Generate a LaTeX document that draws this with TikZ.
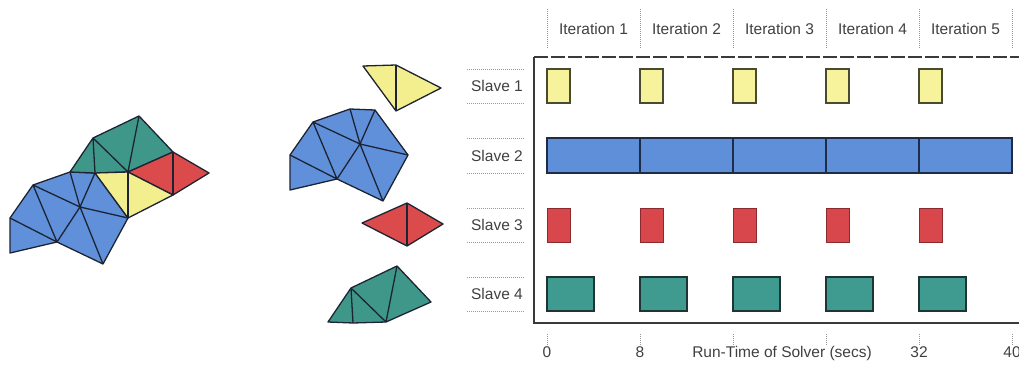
\documentclass[tikz,border=0pt]{standalone}
\usepackage{fontspec}
\setmainfont{Liberation Sans}
\definecolor{meshline}{HTML}{1C2433}
\definecolor{myyellow}{HTML}{F3EF8E}
\definecolor{myblue}{HTML}{6190DA}
\definecolor{myred}{HTML}{DC4B4C}
\definecolor{myteal}{HTML}{3F978A}
\definecolor{gyellow}{HTML}{F6F39C}
\definecolor{gyellowline}{HTML}{4A4A30}
\definecolor{gblue}{HTML}{5F8FD8}
\definecolor{gblueline}{HTML}{1E2C48}
\definecolor{gred}{HTML}{D8474B}
\definecolor{gredline}{HTML}{8A2A2E}
\definecolor{gteal}{HTML}{3F9A8F}
\definecolor{gtealline}{HTML}{1F3434}
\definecolor{txt}{HTML}{404040}
\definecolor{frameline}{HTML}{3A3A3A}
\definecolor{dotline}{HTML}{999999}
\begin{document}
\begin{tikzpicture}[x=1pt,y=-1pt,
  meshedge/.style={draw=meshline, line width=1.3pt, line join=round},
  yellowcell/.style={meshedge, fill=myyellow},
  bluecell/.style={meshedge, fill=myblue},
  redcell/.style={meshedge, fill=myred},
  tealcell/.style={meshedge, fill=myteal},
  ybar/.style={fill=gyellow, draw=gyellowline, line width=1.3pt},
  bbar/.style={fill=gblue, draw=gblueline, line width=1.5pt},
  rbar/.style={fill=gred, draw=gredline, line width=0.8pt},
  tbar/.style={fill=gteal, draw=gtealline, line width=1.6pt},
  lbl/.style={text=txt, font=\fontsize{15.5}{18}\selectfont, inner sep=0pt},
  dotrule/.style={draw=dotline, line width=0.8pt, dash pattern=on 1pt off 1pt},
  frame/.style={draw=frameline, line width=1.5pt}]
\useasboundingbox (0,0) rectangle (1019,364);

% ---------- mesh pieces (drawn at the origin, shifted as needed) ----------
\newcommand{\tealpiece}[1]{%
  \begin{scope}[shift={#1}]
    \path[tealcell] (70,172) -- (93,138) -- (139,116) -- (173,152) -- (128,172) -- (95,173) -- cycle;
    \draw[meshedge] (93,138) -- (95,173) (93,138) -- (128,172) (139,116) -- (128,172);
  \end{scope}}
\newcommand{\redpiece}[1]{%
  \begin{scope}[shift={#1}]
    \path[redcell] (128,172) -- (173,152) -- (209,173) -- (173,195) -- cycle;
    \draw[meshedge] (173,152) -- (173,195);
  \end{scope}}
\newcommand{\yellowpiece}[1]{%
  \begin{scope}[shift={#1}]
    \path[yellowcell] (95,173) -- (128,172) -- (173,195) -- (128,218) -- cycle;
    \draw[meshedge] (128,172) -- (128,218);
  \end{scope}}
\newcommand{\bluepiece}[1]{%
  \begin{scope}[shift={#1}]
    \path[bluecell] (33,185) -- (70,172) -- (95,173) -- (128,218) -- (103,264)
      -- (57,242) -- (10,253) -- (10,218) -- cycle;
    \draw[meshedge] (10,218) -- (57,242) (33,185) -- (57,242)
      (33,185) -- (80,207) (70,172) -- (80,207) (95,173) -- (80,207)
      (80,207) -- (128,218) (80,207) -- (103,264) (80,207) -- (57,242);
  \end{scope}}

% whole mesh
\bluepiece{(0,0)}
\tealpiece{(0,0)}
\redpiece{(0,0)}
\yellowpiece{(0,0)}

% partitioned mesh
\yellowpiece{(268,-107)}
\bluepiece{(280,-63)}
\redpiece{(234,51)}
\tealpiece{(258,150)}

% ---------- schedule chart ----------
% iteration headers
\foreach \k in {0,...,5}
  \draw[dotrule] (547+93*\k,9) -- (547+93*\k,48);
\foreach \k in {1,...,5}
  \node[lbl] (it\k) at (547+93*\k-46.5,29) {Iteration \k};

% frame
\draw[frame, dash pattern=on 14pt off 3pt] (534,57) -- (1019,57);
\draw[frame] (534,57) -- (534,323) -- (1019,323);

% row labels with dotted rules
\foreach \r/\top/\bot in {1/69/103, 2/138/173, 3/208/242, 4/277/311} {
  \node[lbl] (s\r) at (497,{(\top+\bot)/2}) {Slave \r};
  \draw[dotrule] (467,\top) -- (524,\top);
  \draw[dotrule] (467,\bot) -- (524,\bot);
}

% task bars
\foreach \k in {0,...,4} {
  \path[ybar] (547+93*\k,69) rectangle (570+93*\k,103);
  \path[bbar] (547+93*\k,138) rectangle (640+93*\k,173);
  \path[rbar] (547+93*\k,208) rectangle (570+93*\k,242);
  \path[tbar] (547+93*\k,277) rectangle (594+93*\k,311);
}

% time axis
\foreach \k in {0,...,5}
  \draw[dotrule] (547+93*\k,334) -- (547+93*\k,345);
\node[lbl, anchor=base] (t0) at (547,357) {0};
\node[lbl, anchor=base] (t8) at (640,357) {8};
\node[lbl, anchor=base] (t32) at (919,357) {32};
\node[lbl, anchor=base] (t40) at (1012,357) {40};
\node[lbl, anchor=base] (axis) at (782,357) {Run-Time of Solver (secs)};
\end{tikzpicture}
\end{document}
